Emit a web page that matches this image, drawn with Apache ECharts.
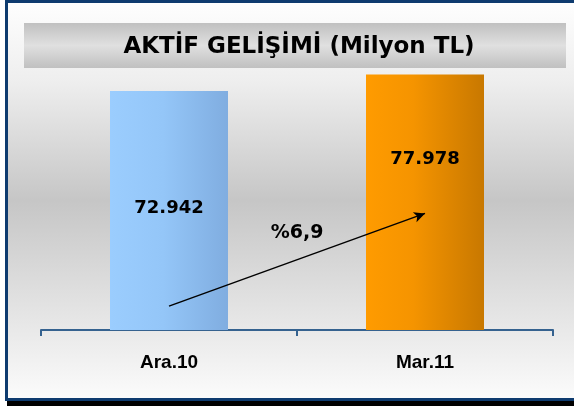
<!DOCTYPE html>
<html>
<head>
<meta charset="utf-8">
<script src="https://cdn.jsdelivr.net/npm/echarts@6/dist/echarts.min.js"></script>
<style>
  html, body { margin: 0; padding: 0; background: #fff; }
  #chart { width: 574px; height: 406px; }
</style>
</head>
<body>
<div id="chart"></div>
<script>
const titleText  = "AKTİF GELİŞİMİ (Milyon TL)";
const categories = ["Ara.10", "Mar.11"];
const values     = [72942, 77978];
const valueTexts = ["72.942", "77.978"];
const growthText = "%6,9";
// arrow runs from the first to the second category, heights in axis units
const arrowFrom  = 7300;
const arrowTo    = 35600;

const navy = "#0e3b6f";

let chartElement = document.getElementById("chart");
let chart = echarts.init(chartElement, null, { renderer: "canvas" });

function barGradient(i) {
  if (i === 0) {
    return new echarts.graphic.LinearGradient(0, 0, 1, 0, [
      { offset: 0, color: "#9bcdfe" },
      { offset: 0.45, color: "#94c6f8" },
      { offset: 1, color: "#80ade0" },
    ]);
  }
  return new echarts.graphic.LinearGradient(0, 0, 1, 0, [
    { offset: 0, color: "#ff9b00" },
    { offset: 0.4, color: "#f59400" },
    { offset: 1, color: "#c87800" },
  ]);
}

// label height inside each bar, as share of the bar
const labelPos = [["50%", "49%"], ["50%", "33%"]];

const barData = values.map((v, i) => ({
  value: v,
  itemStyle: { color: barGradient(i) },
  label: {
    show: true,
    position: labelPos[i],
    formatter: valueTexts[i],
  },
}));

chart.setOption({
  animation: false,
  grid: { left: 41, right: 21, top: 68, bottom: 76 },
  graphic: [
    {
      type: "rect", z: -20,
      shape: { x: 8, y: 3, width: 566, height: 395 },
      style: {
        fill: new echarts.graphic.LinearGradient(0, 0, 0, 1, [
          { offset: 0, color: "#fefefe" },
          { offset: 0.2, color: "#eeeeee" },
          { offset: 0.5, color: "#c6c6c6" },
          { offset: 0.82, color: "#e8e8e8" },
          { offset: 1, color: "#fbfbfb" },
        ]),
      },
    },
    { type: "rect", z: -10, shape: { x: 5, y: 0, width: 569, height: 3 }, style: { fill: navy } },
    { type: "rect", z: -10, shape: { x: 5, y: 0, width: 3, height: 401 }, style: { fill: navy } },
    { type: "rect", z: -10, shape: { x: 5, y: 398, width: 569, height: 3 }, style: { fill: navy } },
    { type: "rect", z: -10, shape: { x: 7, y: 401, width: 567, height: 5 }, style: { fill: "#000" } },
    {
      type: "rect", z: -10,
      shape: { x: 24, y: 23, width: 542, height: 45 },
      style: {
        fill: new echarts.graphic.LinearGradient(0, 0, 0, 1, [
          { offset: 0, color: "#c0c0c0" },
          { offset: 0.5, color: "#e0e0e0" },
          { offset: 1, color: "#c0c0c0" },
        ]),
      },
    },
    {
      type: "text", z: 10,
      x: 299, y: 47,
      style: {
        text: titleText,
        align: "center", verticalAlign: "middle",
        font: "bold 23px 'DejaVu Sans'",
        fill: "#000",
      },
    },
    {
      type: "text", z: 10,
      x: 297, y: 233,
      style: {
        text: growthText,
        align: "center", verticalAlign: "middle",
        font: "bold 19px 'DejaVu Sans'",
        fill: "#000",
      },
    },
  ],
  xAxis: {
    type: "category",
    data: categories,
    axisLine: { lineStyle: { color: "#35628f", width: 2 } },
    axisTick: { show: true, length: 6, lineStyle: { color: "#35628f", width: 2 } },
    axisLabel: {
      margin: 23,
      color: "#000",
      fontFamily: "Liberation Sans",
      fontWeight: "bold",
      fontSize: 19,
    },
  },
  yAxis: {
    type: "value",
    min: 0,
    max: 80000,
    show: false,
    splitLine: { show: false },
  },
  series: [
    {
      type: "bar",
      data: barData,
      barWidth: 118,
      label: {
        color: "#000",
        fontFamily: "DejaVu Sans",
        fontWeight: "bold",
        fontSize: 18,
        align: "center",
        verticalAlign: "middle",
      },
      markLine: {
        silent: true,
        symbol: ["none", "arrow"],
        symbolSize: [8, 11],
        label: { show: false },
        lineStyle: { color: "#000", width: 1.5, type: "solid" },
        data: [[
          { coord: [categories[0], arrowFrom] },
          { coord: [categories[1], arrowTo] },
        ]],
      },
    },
  ],
});

window.addEventListener("resize", () => chart.resize());
</script>
</body>
</html>
